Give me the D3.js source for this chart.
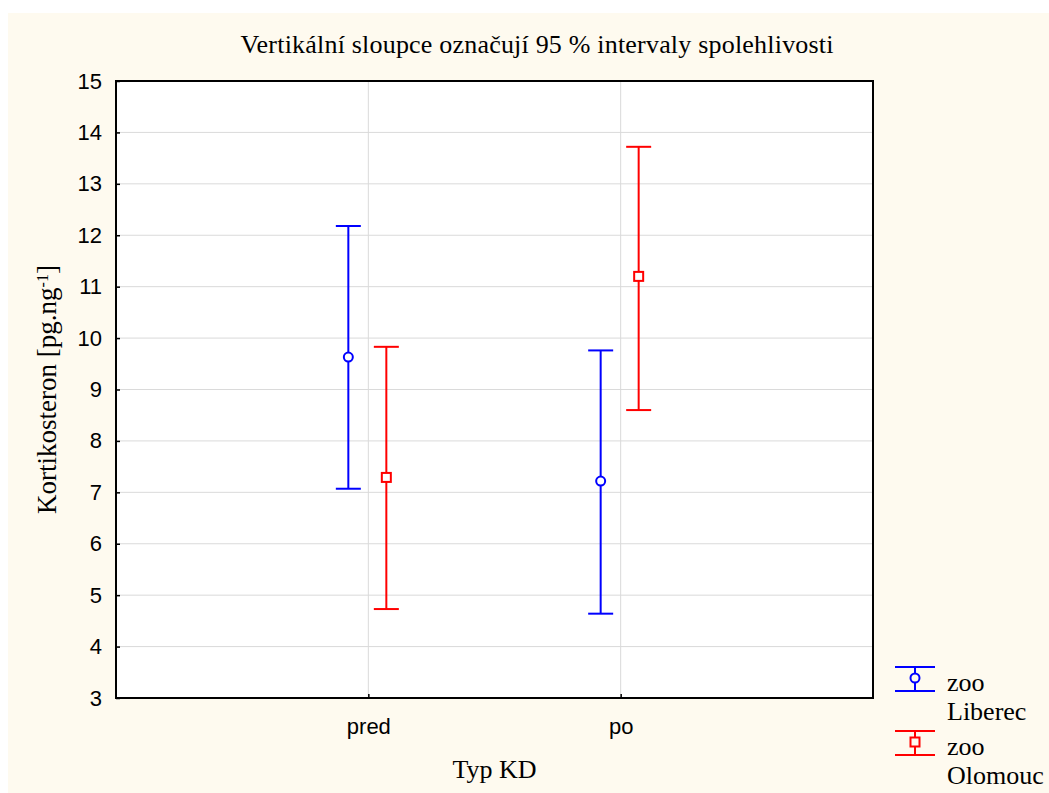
<!DOCTYPE html>
<html>
<head>
<meta charset="utf-8">
<script src="https://cdn.jsdelivr.net/npm/d3@7"></script>
<style>
  body { margin: 0; background: #fff; }
</style>
</head>
<body>
<svg id="chart" width="1049" height="793"></svg>
<script>
// data
const categories = ['pred', 'po'];
const seriesNames = ['zoo Liberec', 'zoo Olomouc'];
const liberecMean = [9.63, 7.22];
const liberecLow = [7.07, 4.64];
const liberecHigh = [12.18, 9.76];
const olomoucMean = [7.29, 11.2];
const olomoucLow = [4.73, 8.6];
const olomoucHigh = [9.83, 13.72];
const yTicks = [3, 4, 5, 6, 7, 8, 9, 10, 11, 12, 13, 14, 15];

const series = [
  { name: seriesNames[0], mean: liberecMean, low: liberecLow, high: liberecHigh, color: '#0000ff', shape: 'circle', offset: -20 },
  { name: seriesNames[1], mean: olomoucMean, low: olomoucLow, high: olomoucHigh, color: '#ff0000', shape: 'square', offset: 18 }
];

const serif = 'Liberation Serif, Times New Roman, serif';
const sans = 'Liberation Sans, Arial, sans-serif';

const svg = d3.select('#chart');
const margin = { top: 81, right: 176, bottom: 95, left: 116 };
const width = 1049 - margin.left - margin.right;
const height = 793 - margin.top - margin.bottom;

// cream background
svg.append('rect')
  .attr('x', 8).attr('y', 13)
  .attr('width', 1041).attr('height', 780)
  .attr('fill', '#fefaef');

svg.append('text')
  .attr('x', 537).attr('y', 53)
  .attr('text-anchor', 'middle')
  .attr('font-family', serif)
  .attr('font-size', 26)
  .attr('textLength', 593)
  .text('Vertikální sloupce označují 95 % intervaly spolehlivosti');

const g = svg.append('g').attr('transform', `translate(${margin.left},${margin.top})`);

const x = d3.scalePoint().domain(categories).range([0, width]).padding(1);
const y = d3.scaleLinear().domain([3, 15]).range([height, 0]);

g.append('rect').attr('width', width).attr('height', height).attr('fill', '#fff');

// grid
g.selectAll('.hgrid').data(yTicks.slice(1, -1)).enter().append('line')
  .attr('x1', 0).attr('x2', width)
  .attr('y1', d => y(d)).attr('y2', d => y(d))
  .attr('stroke', '#dadada').attr('stroke-width', 1);
g.selectAll('.vgrid').data(categories).enter().append('line')
  .attr('x1', d => x(d)).attr('x2', d => x(d))
  .attr('y1', 0).attr('y2', height)
  .attr('stroke', '#dadada').attr('stroke-width', 1);

// axes
const yAxis = g.append('g')
  .call(d3.axisLeft(y).tickValues(yTicks).tickSize(-4).tickPadding(14));
yAxis.select('.domain').remove();
yAxis.selectAll('text')
  .attr('font-family', sans)
  .attr('font-size', 22).attr('fill', '#000');
yAxis.selectAll('line').attr('stroke', '#000').attr('stroke-width', 1.5);

const xAxis = g.append('g')
  .attr('transform', `translate(0,${height})`)
  .call(d3.axisBottom(x).tickSize(-4).tickPadding(20));
xAxis.select('.domain').remove();
xAxis.selectAll('text')
  .attr('font-family', sans)
  .attr('font-size', 22).attr('fill', '#000');
xAxis.selectAll('line').attr('stroke', '#000').attr('stroke-width', 1.5);

g.append('rect').attr('width', width).attr('height', height)
  .attr('fill', 'none').attr('stroke', '#000').attr('stroke-width', 2);

// error bars
const capW = 25;
series.forEach(s => {
  categories.forEach((c, i) => {
    const cx = x(c) + s.offset;
    const eb = g.append('g').attr('stroke', s.color).attr('stroke-width', 2).attr('fill', 'none');
    eb.append('line').attr('x1', cx).attr('x2', cx).attr('y1', y(s.high[i])).attr('y2', y(s.low[i]));
    eb.append('line').attr('x1', cx - capW / 2).attr('x2', cx + capW / 2).attr('y1', y(s.high[i])).attr('y2', y(s.high[i]));
    eb.append('line').attr('x1', cx - capW / 2).attr('x2', cx + capW / 2).attr('y1', y(s.low[i])).attr('y2', y(s.low[i]));
    if (s.shape === 'circle') {
      eb.append('circle').attr('cx', cx).attr('cy', y(s.mean[i])).attr('r', 4.5).attr('fill', '#fff');
    } else {
      eb.append('rect').attr('x', cx - 4.5).attr('y', y(s.mean[i]) - 4.5).attr('width', 9).attr('height', 9).attr('fill', '#fff');
    }
  });
});

// axis titles
svg.append('text')
  .attr('x', margin.left + width / 2).attr('y', 778)
  .attr('text-anchor', 'middle')
  .attr('font-family', serif)
  .attr('font-size', 26)
  .text('Typ KD');

const yl = svg.append('text')
  .attr('transform', `translate(56,${margin.top + height / 2}) rotate(-90)`)
  .attr('text-anchor', 'middle')
  .attr('font-family', serif)
  .attr('font-size', 27);
yl.append('tspan').text('Kortikosteron [pg.ng');
yl.append('tspan').attr('baseline-shift', 'super').attr('font-size', 16).text('-1');
yl.append('tspan').text(']');

// legend
const legend = svg.append('g').attr('transform', 'translate(895,667)');
series.forEach((s, i) => {
  const lg = legend.append('g').attr('transform', `translate(0,${i * 64})`);
  const sym = lg.append('g').attr('stroke', s.color).attr('stroke-width', 2).attr('fill', 'none');
  sym.append('line').attr('x1', 0).attr('x2', 40).attr('y1', 0).attr('y2', 0);
  sym.append('line').attr('x1', 0).attr('x2', 40).attr('y1', 24).attr('y2', 24);
  sym.append('line').attr('x1', 20).attr('x2', 20).attr('y1', 0).attr('y2', 24);
  if (s.shape === 'circle') {
    sym.append('circle').attr('cx', 20).attr('cy', 11).attr('r', 4.5).attr('fill', '#fefaef');
  } else {
    sym.append('rect').attr('x', 15.5).attr('y', 6.5).attr('width', 9).attr('height', 9).attr('fill', '#fefaef');
  }
  const words = s.name.split(' ');
  words.forEach((w, j) => {
    lg.append('text')
      .attr('x', 52).attr('y', 24 + j * 29)
      .attr('font-family', serif)
      .attr('font-size', 26)
      .text(w);
  });
});
</script>
</body>
</html>
